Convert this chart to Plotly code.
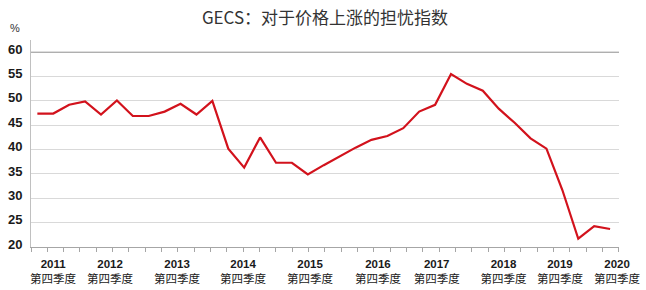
import plotly.graph_objects as go

# Quarterly index values (GECS price-rise concern index)
values = [47.4, 47.4, 49.2, 49.9, 47.2, 50.1, 46.9, 46.9, 47.8, 49.4,
          47.2, 50.0, 40.2, 36.3, 42.5, 37.3, 37.3, 34.9, 36.8, 38.6,
          40.4, 42.0, 42.8, 44.4, 47.8, 49.2, 55.5, 53.5, 52.1, 48.4,
          45.5, 42.3, 40.2, 31.7, 21.7, 24.3, 23.7]
x_index = list(range(len(values)))

years = ["2011", "2012", "2013", "2014", "2015", "2016", "2017", "2018", "2019", "2020"]
quarter_label = "第四季度"
year_label_pos = [0.99, 4.57, 8.78, 12.93, 17.14, 21.41, 25.1, 29.3, 32.85, 36.44]
tick_text = [f"<b>{y}</b><br>{quarter_label}" for y in years]

y_ticks = [20, 25, 30, 35, 40, 45, 50, 55, 60]

fig = go.Figure()
fig.add_trace(go.Scatter(
    x=x_index, y=values, mode="lines",
    line=dict(color="#d2121c", width=2.2),
    hoverinfo="skip", showlegend=False,
))

fig.update_layout(
    width=646, height=290,
    margin=dict(l=31, r=27, t=40, b=43),
    paper_bgcolor="white", plot_bgcolor="white",
    title=dict(text="GECS：对于价格上涨的担忧指数",
               x=0.5, xref="paper", y=1 - 18.5 / 290, yref="container",
               xanchor="center", yanchor="middle",
               font=dict(family="Noto Sans CJK SC", size=17, color="#333333")),
    xaxis=dict(
        range=[-0.4, 36.56], automargin=False,
        showgrid=False, zeroline=False,
        showline=True, linecolor="#a6a6a6", linewidth=1,
        tickmode="array", tickvals=year_label_pos, ticktext=tick_text,
        ticks="", ticklabelstandoff=6,
        tickfont=dict(family="Liberation Sans, Noto Sans CJK SC", size=11.5, color="#1a1a1a"),
        minor=dict(ticks="outside", tick0=-0.4, dtick=1.0264, ticklen=4,
                   tickcolor="#a6a6a6", showgrid=False),
    ),
    yaxis=dict(
        range=[20, 62.5], automargin=False,
        tickmode="array", tickvals=y_ticks,
        showgrid=True, gridcolor="#d9d9d9", gridwidth=1,
        zeroline=False,
        showline=True, linecolor="#c0c0c0", linewidth=1,
        ticks="", ticklabelstandoff=5, ticklabelshift=-3,
        tickfont=dict(family="Liberation Sans", size=13, color="#1a1a1a", weight="bold"),
    ),
    shapes=[dict(type="line", xref="paper", yref="y", x0=0, x1=1, y0=60, y1=60,
                 line=dict(color="#9a9a9a", width=1))],
    annotations=[dict(text="%", xref="paper", yref="paper",
                      x=(15 - 31) / 588, y=(247 - 28) / 207,
                      xanchor="center", yanchor="middle",
                      showarrow=False,
                      font=dict(family="Liberation Sans", size=11, color="#333333"))],
)

fig.write_html("out.html")
